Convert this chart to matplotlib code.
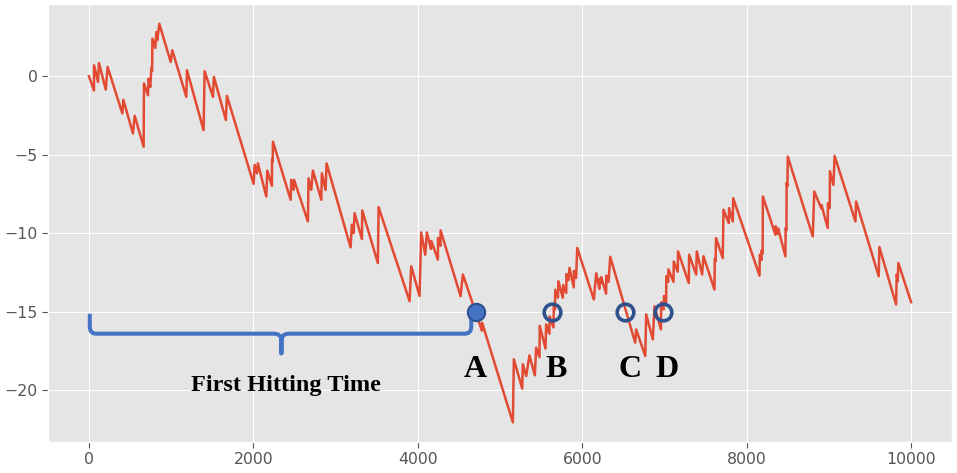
import matplotlib.pyplot as plt
from matplotlib.path import Path
from matplotlib.patches import PathPatch

# random walk path (step, value)
walk_x = [0, 61, 62, 110, 122, 204, 227, 406, 418, 535, 556, 665, 669, 718, 726, 746,
          759, 768, 772, 807, 819, 831, 856, 994, 1014, 1184, 1192, 1394, 1407, 1508,
          1520, 1665, 1678, 2003, 2015, 2043, 2055, 2157, 2169, 2225, 2227, 2235, 2238,
          2453, 2461, 2489, 2495, 2663, 2671, 2704, 2724, 2826, 2833, 2878, 2890, 3182,
          3198, 3219, 3231, 3320, 3324, 3514, 3523, 3900, 3920, 4021, 4041, 4090, 4110,
          4160, 4165, 4244, 4246, 4275, 4277, 4520, 4548, 4779, 4782, 5156, 5168, 5270,
          5277, 5318, 5358, 5423, 5440, 5480, 5483, 5553, 5561, 5600, 5603, 5650, 5655,
          5668, 5672, 5705, 5710, 5764, 5768, 5805, 5808, 5830, 5845, 5897, 5900, 5925,
          5939, 6141, 6170, 6210, 6216, 6228, 6231, 6290, 6293, 6320, 6340, 6644, 6656,
          6766, 6778, 6858, 6879, 6957, 6960, 6990, 6994, 7020, 7023, 7045, 7048, 7110,
          7113, 7162, 7165, 7296, 7300, 7386, 7393, 7458, 7475, 7608, 7612, 7622, 7627,
          7709, 7718, 7782, 7786, 7831, 7836, 8156, 8160, 8180, 8182, 8194, 8197, 8350,
          8353, 8380, 8383, 8471, 8474, 8484, 8486, 8496, 8500, 8804, 8822, 8906, 8910,
          8986, 8988, 9010, 9013, 9055, 9070, 9323, 9331, 9606, 9614, 9817, 9825, 9837,
          9845, 10000]
walk_y = [0.0, -0.91, 0.70, -0.36, 0.84, -0.85, 0.59, -2.37, -1.50, -3.64, -2.52, -4.49,
          -0.46, -1.21, -0.15, -0.68, 0.53, 0.35, 2.39, 1.80, 2.81, 2.29, 3.34, 0.91, 1.65,
          -1.31, 0.38, -3.43, 0.32, -1.31, -0.04, -2.79, -1.25, -6.86, -5.65, -6.18, -5.55,
          -7.66, -6.01, -6.98, -5.30, -5.45, -4.17, -7.87, -6.60, -7.24, -6.60, -9.25, -6.50,
          -7.24, -6.01, -7.87, -6.18, -7.24, -5.55, -10.90, -9.46, -9.99, -8.72, -10.37,
          -8.55, -11.90, -8.34, -14.33, -12.10, -14.00, -9.95, -11.37, -9.95, -11.00, -10.50,
          -11.68, -10.30, -10.80, -9.82, -14.01, -12.63, -16.20, -15.70, -22.05, -18.03,
          -19.90, -18.35, -19.10, -17.78, -19.05, -17.29, -17.90, -15.90, -17.35, -15.81,
          -16.40, -15.30, -16.00, -14.60, -14.85, -13.60, -14.10, -13.06, -14.11, -13.30,
          -13.80, -12.60, -13.00, -12.21, -13.45, -12.40, -12.85, -10.94, -14.22, -12.55,
          -13.55, -12.90, -13.15, -12.80, -13.85, -12.70, -13.10, -11.50, -16.97, -16.13,
          -17.82, -15.17, -16.76, -14.65, -16.13, -14.40, -14.85, -14.00, -14.40, -12.74,
          -13.10, -12.30, -13.10, -11.80, -12.45, -11.16, -13.17, -11.37, -12.63, -11.16,
          -12.63, -11.47, -13.59, -11.64, -11.80, -10.31, -11.58, -8.50, -9.35, -8.40,
          -9.25, -7.77, -12.70, -11.37, -11.70, -11.10, -11.30, -7.66, -10.10, -9.55,
          -10.05, -9.70, -11.47, -9.67, -9.80, -6.80, -7.00, -5.12, -10.20, -7.34, -8.40,
          -8.20, -9.67, -8.10, -8.40, -6.05, -6.92, -5.08, -9.25, -7.98, -12.74, -10.88,
          -14.54, -12.63, -13.06, -11.90, -14.39]

# marked crossings of the level -15
level = -15
hit_labels = ['A', 'B', 'C', 'D']
hit_x = [4711, 5630, 6526, 6980]
hit_filled = [True, False, False, False]

# brace under the first hitting time
brace_start, brace_end, brace_mid = 10, 4650, 2341
brace_y, brace_tip = -16.4, -17.65

plt.style.use('ggplot')
fig, ax = plt.subplots(figsize=(9.57, 4.73), dpi=100)
fig.subplots_adjust(left=0.050, right=0.995, top=0.9915, bottom=0.0655)

ax.plot(walk_x, walk_y, color='#E24A33', lw=1.8, zorder=2)

verts = [(brace_start, level - 0.13), (brace_start, brace_y + 0.45),
         (brace_start, brace_y), (brace_start + 80, brace_y),
         (brace_mid - 90, brace_y),
         (brace_mid, brace_y), (brace_mid, brace_y - 0.45),
         (brace_mid, brace_tip), (brace_mid, brace_y - 0.45),
         (brace_mid, brace_y), (brace_mid + 90, brace_y),
         (brace_end - 80, brace_y),
         (brace_end, brace_y), (brace_end, brace_y + 0.45),
         (brace_end, level - 0.4)]
codes = [Path.MOVETO, Path.LINETO, Path.CURVE3, Path.CURVE3, Path.LINETO,
         Path.CURVE3, Path.CURVE3, Path.LINETO, Path.LINETO, Path.CURVE3, Path.CURVE3,
         Path.LINETO, Path.CURVE3, Path.CURVE3, Path.LINETO]
ax.add_patch(PathPatch(Path(verts, codes), fill=False, edgecolor='#4472C4', lw=2.9,
                       joinstyle='round', capstyle='butt', zorder=3))

for lab, hx, filled in zip(hit_labels, hit_x, hit_filled):
    ax.plot(hx, level, 'o', ms=12.5 if filled else 12,
            mfc='#4472C4' if filled else 'none', mec='#2F528F',
            mew=1.5 if filled else 2.6, zorder=4)
    ax.text(hx - 10 if lab == 'A' else hx + 50, -18.67, lab, ha='center', va='center',
            family='Liberation Serif', fontweight='bold', fontsize=23, color='black')

ax.text(2398, -19.72, 'First Hitting Time', ha='center', va='center',
        family='Liberation Serif', fontweight='bold', fontsize=17.5, color='black')

ax.set_xticks([0, 2000, 4000, 6000, 8000, 10000])
ax.set_yticks([0, -5, -10, -15, -20])
ax.tick_params(labelsize=11.3, length=4)
ax.set_xlim(-500, 10500)
ax.set_ylim(-23.3, 4.6)

fig.savefig('out.png', dpi=100)
